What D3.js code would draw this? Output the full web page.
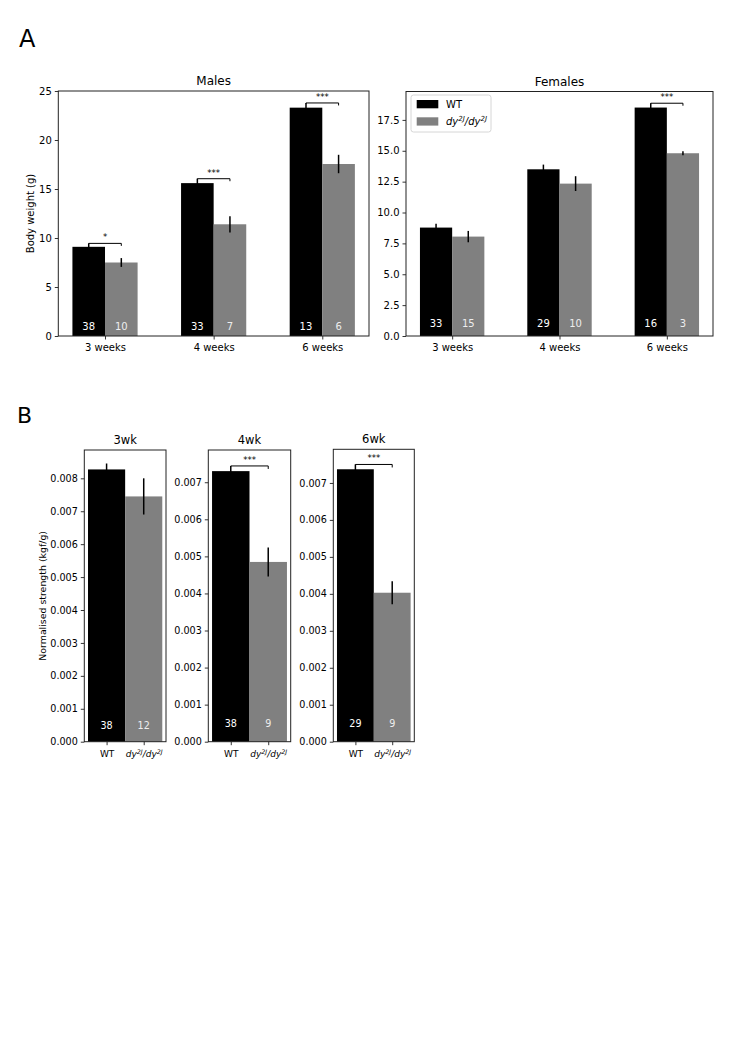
<!DOCTYPE html>
<html>
<head>
<meta charset="utf-8">
<script src="https://cdn.jsdelivr.net/npm/d3@7"></script>
<style>
  body { margin: 0; background: #fff; }
  svg text { font-family: "DejaVu Sans", sans-serif; }
</style>
</head>
<body>
<div id="fig"></div>
<script>
// ---- data (panel A: body weight) ----
var ages = ["3 weeks", "4 weeks", "6 weeks"];

var malesWT = [9.1, 15.6, 23.3];
var malesWTErr = [0.35, 0.45, 0.48];
var malesMut = [7.5, 11.4, 17.55];
var malesMutErr = [0.45, 0.83, 0.94];
var malesWTn = [38, 33, 13];
var malesMutN = [10, 7, 6];
var malesSig = ["*", "***", "***"];

var femalesWT = [8.78, 13.5, 18.5];
var femalesWTErr = [0.32, 0.38, 0.35];
var femalesMut = [8.05, 12.34, 14.8];
var femalesMutErr = [0.46, 0.6, 0.16];
var femalesWTn = [33, 29, 16];
var femalesMutN = [15, 10, 3];
var femalesSig = ["", "", "***"];

var malesTicks = [0, 5, 10, 15, 20, 25];
var femalesTicks = [0, 2.5, 5, 7.5, 10, 12.5, 15, 17.5];

// ---- data (panel B: normalised strength) ----
var genotypes = ["WT", "dy2J"];
var strengthWeeks = ["3wk", "4wk", "6wk"];
var strengthWT = [0.00827, 0.0073, 0.00737];
var strengthWTErr = [0.00018, 0.00014, 0.00013];
var strengthMut = [0.00745, 0.00485, 0.00403];
var strengthMutErr = [0.00055, 0.00039, 0.00031];
var strengthWTn = [38, 38, 29];
var strengthMutN = [12, 9, 9];
var strengthSig = ["", "***", "***"];
var strengthMax = [0.00886, 0.00787, 0.00791];
var strengthTicks = [
  [0, 0.001, 0.002, 0.003, 0.004, 0.005, 0.006, 0.007, 0.008],
  [0, 0.001, 0.002, 0.003, 0.004, 0.005, 0.006, 0.007],
  [0, 0.001, 0.002, 0.003, 0.004, 0.005, 0.006, 0.007]
];

var WT_COLOR = "#000000";
var MUT_COLOR = "#808080";
var TICK_FONT = 10;

var svg = d3.select("#fig").append("svg")
    .attr("width", 735)
    .attr("height", 1039);

// mutant genotype label with superscripts
function mutantLabel(sel, fontSize) {
    sel.append("tspan").attr("font-style", "italic").text("dy");
    sel.append("tspan").attr("font-style", "italic")
        .attr("font-size", fontSize * 0.7).attr("dy", -fontSize * 0.38).text("2J");
    sel.append("tspan").attr("font-style", "italic")
        .attr("dy", fontSize * 0.38).text("/dy");
    sel.append("tspan").attr("font-style", "italic")
        .attr("font-size", fontSize * 0.7).attr("dy", -fontSize * 0.38).text("2J");
}

function styleAxis(g) {
    g.select(".domain").remove();
    g.selectAll(".tick line").attr("stroke", "#000").attr("stroke-width", 0.8);
    g.selectAll(".tick text").attr("font-size", TICK_FONT).attr("fill", "#000")
        .attr("font-family", "DejaVu Sans, sans-serif");
}

function frame(box) {
    svg.append("rect")
        .attr("x", box.left).attr("y", box.top)
        .attr("width", box.right - box.left).attr("height", box.bottom - box.top)
        .attr("fill", "none").attr("stroke", "#222").attr("stroke-width", 1);
}

// significance bracket from WT bar (with error) to mutant bar
function bracket(g, x1, x2, yb, label, dropRight) {
    g.append("path")
        .attr("d", "M" + x1 + "," + (yb + 0.5) + "V" + yb + "H" + x2 + "V" + (yb + dropRight))
        .attr("fill", "none").attr("stroke", "#000").attr("stroke-width", 1);
    g.append("text")
        .attr("x", (x1 + x2) / 2).attr("y", yb - 3)
        .attr("text-anchor", "middle").attr("font-size", 8.5)
        .text(label);
}

// ---- grouped bars panel (A) ----
function weightPanel(box, title, wt, wtErr, mut, mutErr, nWT, nMut, sig, ticks, yMax, yFmt) {
    var x = d3.scaleLinear().domain([-0.43, 2.43]).range([box.left, box.right]);
    var y = d3.scaleLinear().domain([0, yMax]).range([box.bottom, box.top]);
    var bw = x(0.3) - x(0);
    var g = svg.append("g");

    ages.forEach(function(a, i) {
        g.append("rect").attr("x", x(i - 0.3)).attr("y", y(wt[i]))
            .attr("width", bw).attr("height", y(0) - y(wt[i])).attr("fill", WT_COLOR);
        g.append("rect").attr("x", x(i)).attr("y", y(mut[i]))
            .attr("width", bw).attr("height", y(0) - y(mut[i])).attr("fill", MUT_COLOR);
        // error bars
        g.append("line").attr("x1", x(i - 0.15)).attr("x2", x(i - 0.15))
            .attr("y1", y(wt[i] - wtErr[i])).attr("y2", y(wt[i] + wtErr[i]))
            .attr("stroke", "#000").attr("stroke-width", 1.5);
        g.append("line").attr("x1", x(i + 0.15)).attr("x2", x(i + 0.15))
            .attr("y1", y(mut[i] - mutErr[i])).attr("y2", y(mut[i] + mutErr[i]))
            .attr("stroke", "#000").attr("stroke-width", 1.5);
        // n labels
        g.append("text").attr("x", x(i - 0.15)).attr("y", y(1) + 3.7)
            .attr("text-anchor", "middle").attr("font-size", TICK_FONT).attr("fill", "#fff")
            .text(nWT[i]);
        g.append("text").attr("x", x(i + 0.15)).attr("y", y(1) + 3.7)
            .attr("text-anchor", "middle").attr("font-size", TICK_FONT).attr("fill", "#eee")
            .text(nMut[i]);
        if (sig[i]) {
            bracket(g, x(i - 0.15), x(i + 0.15), y(wt[i] + wtErr[i]), sig[i], 2.5);
        }
    });

    svg.append("g").attr("transform", "translate(" + box.left + ",0)")
        .call(d3.axisLeft(y).tickValues(ticks).tickFormat(d3.format(yFmt)).tickSize(3.5).tickPadding(3))
        .call(styleAxis);
    svg.append("g").attr("transform", "translate(0," + box.bottom + ")")
        .call(d3.axisBottom(x).tickValues([0, 1, 2]).tickFormat(function(d) { return ages[d]; })
            .tickSize(3.5).tickPadding(4.5))
        .call(styleAxis);

    frame(box);
    svg.append("text").attr("x", (box.left + box.right) / 2).attr("y", box.top - 6)
        .attr("text-anchor", "middle").attr("font-size", 12).text(title);
    return { x: x, y: y };
}

var males = { left: 58.3, right: 369, top: 91, bottom: 336 };
var females = { left: 406, right: 713, top: 91.5, bottom: 336 };

weightPanel(males, "Males", malesWT, malesWTErr, malesMut, malesMutErr,
    malesWTn, malesMutN, malesSig, malesTicks, 25, "d");
weightPanel(females, "Females", femalesWT, femalesWTErr, femalesMut, femalesMutErr,
    femalesWTn, femalesMutN, femalesSig, femalesTicks, 19.8, ".1f");

svg.append("text")
    .attr("transform", "translate(33.5," + ((males.top + males.bottom) / 2) + ") rotate(-90)")
    .attr("text-anchor", "middle").attr("font-size", TICK_FONT)
    .text("Body weight (g)");

// legend (females panel)
var leg = svg.append("g");
leg.append("rect").attr("x", 411).attr("y", 95).attr("width", 80).attr("height", 37)
    .attr("rx", 2.5).attr("fill", "#fff").attr("fill-opacity", 0.8)
    .attr("stroke", "#ccc").attr("stroke-width", 0.8);
leg.append("rect").attr("x", 416.7).attr("y", 100).attr("width", 21.6).attr("height", 8.3)
    .attr("fill", WT_COLOR);
leg.append("rect").attr("x", 416.7).attr("y", 117.3).attr("width", 21.6).attr("height", 8.3)
    .attr("fill", MUT_COLOR);
leg.append("text").attr("x", 446).attr("y", 107.8).attr("font-size", TICK_FONT).text("WT");
leg.append("text").attr("x", 446).attr("y", 125.2).attr("font-size", TICK_FONT)
    .call(mutantLabel, TICK_FONT);

// ---- panel B: two bars per week ----
var strengthBoxes = [
    { left: 84.3, right: 166, top: 450, bottom: 741.7 },
    { left: 208.3, right: 290.7, top: 450, bottom: 741.7 },
    { left: 333.3, right: 414.3, top: 449.3, bottom: 741.7 }
];

strengthWeeks.forEach(function(wk, k) {
    var box = strengthBoxes[k];
    var x = d3.scaleLinear().domain([-0.6, 1.6]).range([box.left, box.right]);
    var y = d3.scaleLinear().domain([0, strengthMax[k]]).range([box.bottom, box.top]);
    var bw = x(1) - x(0);
    var g = svg.append("g");
    var vals = [strengthWT[k], strengthMut[k]];
    var errs = [strengthWTErr[k], strengthMutErr[k]];
    var ns = [strengthWTn[k], strengthMutN[k]];

    genotypes.forEach(function(gt, i) {
        g.append("rect").attr("x", x(i - 0.5)).attr("y", y(vals[i]))
            .attr("width", bw).attr("height", y(0) - y(vals[i]))
            .attr("fill", i === 0 ? WT_COLOR : MUT_COLOR);
        g.append("line").attr("x1", x(i)).attr("x2", x(i))
            .attr("y1", y(vals[i] - errs[i])).attr("y2", y(vals[i] + errs[i]))
            .attr("stroke", "#000").attr("stroke-width", 1.5);
        g.append("text").attr("x", x(i)).attr("y", y(0.0005) + 3.5)
            .attr("text-anchor", "middle").attr("font-size", 9.6)
            .attr("fill", i === 0 ? "#fff" : "#eee").text(ns[i]);
    });
    if (strengthSig[k]) {
        bracket(g, x(0), x(1), y(vals[0] + errs[0]), strengthSig[k], 3);
    }

    svg.append("g").attr("transform", "translate(" + box.left + ",0)")
        .call(d3.axisLeft(y).tickValues(strengthTicks[k]).tickFormat(d3.format(".3f"))
            .tickSize(3.5).tickPadding(3))
        .call(styleAxis)
        .selectAll(".tick text").attr("font-size", 9.6);
    var xa = svg.append("g").attr("transform", "translate(0," + box.bottom + ")")
        .call(d3.axisBottom(x).tickValues([0, 1]).tickFormat("").tickSize(3.5).tickPadding(3))
        .call(styleAxis);
    xa.selectAll(".tick").each(function(d) {
        var t = d3.select(this).append("text").attr("y", 15.5).attr("text-anchor", "middle")
            .attr("font-size", 9).attr("fill", "#000");
        if (d === 0) t.text("WT");
        else t.call(mutantLabel, 9);
    });

    frame(box);
    svg.append("text").attr("x", (box.left + box.right) / 2).attr("y", box.top - 6)
        .attr("text-anchor", "middle").attr("font-size", 11.5).text(wk);
});

svg.append("text")
    .attr("transform", "translate(46," + ((strengthBoxes[0].top + strengthBoxes[0].bottom) / 2) + ") rotate(-90)")
    .attr("text-anchor", "middle").attr("font-size", 9.4)
    .text("Normalised strength (kgf/g)");

// panel letters
svg.append("text").attr("x", 19).attr("y", 46.5).attr("font-size", 24).text("A");
svg.append("text").attr("x", 17).attr("y", 422.7).attr("font-size", 22).text("B");
</script>
</body>
</html>
